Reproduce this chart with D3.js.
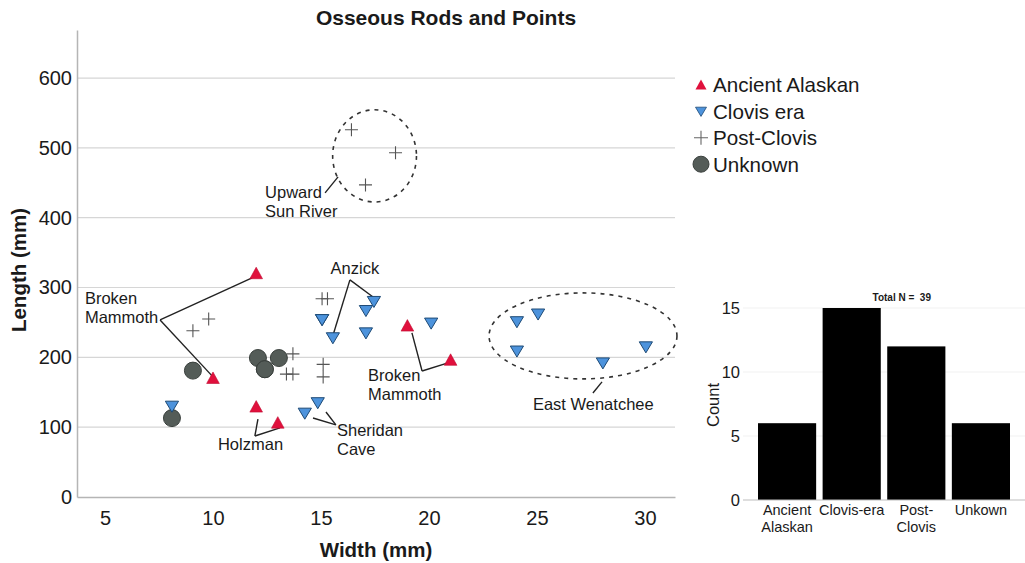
<!DOCTYPE html>
<html>
<head>
<meta charset="utf-8">
<script src="https://cdn.jsdelivr.net/npm/d3@7"></script>
<style>
  html, body { margin: 0; padding: 0; background: #fff; }
  svg { display: block; font-family: "Liberation Sans", Arial, sans-serif; }
</style>
</head>
<body>
<svg id="chart" width="1025" height="563"></svg>
<script>
// ---- Data: width / length (mm) of osseous rods and points by group ----
const ancientWidth  = [12, 10, 12, 13, 19, 21];
const ancientLength = [320, 170, 129, 106, 245, 196];

const clovisWidth  = [8.1, 14.25, 14.85, 15.05, 15.05, 15.55, 17.08, 17.45, 17.08, 20.1, 24.07, 25.05, 24.07, 28.05, 30.04];
const clovisLength = [130, 120, 135, 254, 254, 228, 267, 280, 235, 249, 251, 262, 209, 192, 215];

const postWidth  = [16.41, 18.45, 17.06, 9.07, 9.8, 15.05, 15.3, 13.7, 13.4, 13.7, 15.1, 15.1];
const postLength = [526, 493, 447, 238, 255, 284, 284, 205, 176, 176, 190, 172];

const unknownWidth  = [8.1, 9.07, 12.08, 12.4, 12.4, 13.05];
const unknownLength = [113, 181, 199, 183, 183, 199];

const xTicks = [5, 10, 15, 20, 25, 30];
const yTicks = [0, 100, 200, 300, 400, 500, 600];

const legendLabels = ["Ancient Alaskan", "Clovis era", "Post-Clovis", "Unknown"];

// counts per group for the inset bar chart
const barCategories = ["Ancient Alaskan", "Clovis-era", "Post- Clovis", "Unkown"];
const barCounts = [6, 15, 12, 6];
const barTicks = [0, 5, 10, 15];

const svg = d3.select("#chart");
const INK = "#1a1a1a";

// ---- Scatter scales ----
const x = d3.scaleLinear().domain([3.704, 31.389]).range([77, 675]);
const y = d3.scaleLinear().domain([0, 668.8]).range([497, 30]);

// gridlines
svg.append("g").selectAll("line").data(yTicks.filter(d => d > 0)).join("line")
  .attr("x1", x.range()[0]).attr("x2", x.range()[1])
  .attr("y1", d => y(d)).attr("y2", d => y(d))
  .attr("stroke", "#d6d6d6").attr("stroke-width", 1.2);

// axes
const xAxis = svg.append("g").attr("transform", `translate(0,${y(0)})`)
  .call(d3.axisBottom(x).tickValues(xTicks).tickSize(0).tickPadding(14));
const yAxis = svg.append("g").attr("transform", `translate(${x.range()[0]},0)`)
  .call(d3.axisLeft(y).tickValues(yTicks).tickSize(0).tickPadding(5));
[xAxis, yAxis].forEach(g => {
  g.select(".domain").attr("stroke", "#b5b5b5").attr("stroke-width", 1.5);
  g.selectAll("text").attr("font-size", 20).attr("fill", INK)
    .attr("font-family", "Liberation Sans, Arial, sans-serif");
});

// titles
svg.append("text").attr("x", 446).attr("y", 18).attr("dy", "0.35em")
  .attr("text-anchor", "middle").attr("font-weight", "bold").attr("font-size", 21)
  .attr("fill", INK).text("Osseous Rods and Points");
svg.append("text").attr("x", 376).attr("y", 550).attr("dy", "0.35em")
  .attr("text-anchor", "middle").attr("font-weight", "bold").attr("font-size", 20.5)
  .attr("fill", INK).text("Width (mm)");
svg.append("text").attr("transform", "translate(19,270) rotate(-90)").attr("dy", "0.35em")
  .attr("text-anchor", "middle").attr("font-weight", "bold").attr("font-size", 20.5)
  .attr("fill", INK).text("Length (mm)");

// ---- Marker shapes ----
const upTri = s => `M0,${-s * 0.55}L${s * 0.55},${s * 0.45}L${-s * 0.55},${s * 0.45}Z`;
const downTri = s => `M${-s * 0.55},${-s * 0.42}L${s * 0.55},${-s * 0.42}L0,${s * 0.5}Z`;
const plus = s => `M${-s / 2},0H${s / 2}M0,${-s / 2}V${s / 2}`;

const styles = {
  ancient: g => g.attr("d", upTri(11.5)).attr("fill", "#e0103c").attr("stroke", "#c00a30").attr("stroke-width", 0.6),
  clovis: g => g.attr("d", downTri(12)).attr("fill", "#4d93dc").attr("stroke", "#1e4a75").attr("stroke-width", 1),
  post: g => g.attr("d", plus(13)).attr("fill", "none").attr("stroke", "#555").attr("stroke-width", 1.1),
  unknown: g => g.attr("d", d3.symbol(d3.symbolCircle, Math.PI * 8.5 * 8.5)()).attr("fill", "#545c58").attr("stroke", "#3a403d").attr("stroke-width", 1)
};

function plotGroup(ws, ls, style) {
  svg.append("g").selectAll("path").data(ws.map((w, i) => [w, ls[i]])).join("path")
    .attr("transform", d => `translate(${x(d[0])},${y(d[1])})`)
    .call(style);
}

// ---- Annotations (dashed ellipses, leader lines, labels) in data units ----
const ellipses = [
  { cx: 17.48, cy: 488.5, rx: 1.94, ry: 66 },
  { cx: 27.13, cy: 230.7, rx: 4.35, ry: 61.6 }
];
svg.append("g").selectAll("ellipse").data(ellipses).join("ellipse")
  .attr("cx", d => x(d.cx)).attr("cy", d => y(d.cy))
  .attr("rx", d => x(d.cx + d.rx) - x(d.cx)).attr("ry", d => y(d.cy - d.ry) - y(d.cy))
  .attr("fill", "none").attr("stroke", "#333").attr("stroke-width", 1.6)
  .attr("stroke-dasharray", "4,5");

const leaders = [
  { from: [15.19, 435.5], to: [[15.79, 458.4]] },
  { from: [16.34, 310.9], to: [[15.56, 232], [17.41, 286.5]] },
  { from: [7.55, 253.6], to: [[11.81, 313.8], [10.0, 172]] },
  { from: [19.68, 180.5], to: [[19.21, 235], [20.88, 192]] },
  { from: [11.94, 87.4], to: [[12.08, 111.7], [13.1, 98.9]] },
  { from: [15.69, 103.2], to: [[14.63, 113.2], [15.23, 121.8]] },
  { from: [27.59, 149], to: [[28.01, 164.8]] }
];
const leaderSegs = leaders.flatMap(l => l.to.map(t => [l.from, t]));
svg.append("g").selectAll("line").data(leaderSegs).join("line")
  .attr("x1", d => x(d[0][0])).attr("y1", d => y(d[0][1]))
  .attr("x2", d => x(d[1][0])).attr("y2", d => y(d[1][1]))
  .attr("stroke", "#222").attr("stroke-width", 1.4);

const notes = [
  { x: 12.41, y: 436.9, anchor: "start", lines: ["Upward", "Sun River"] },
  { x: 16.57, y: 328, anchor: "middle", lines: ["Anzick"] },
  { x: 4.07, y: 285, anchor: "start", lines: ["Broken", "Mammoth"] },
  { x: 17.18, y: 174.8, anchor: "start", lines: ["Broken", "Mammoth"] },
  { x: 10.23, y: 75.9, anchor: "start", lines: ["Holzman"] },
  { x: 15.74, y: 96, anchor: "start", lines: ["Sheridan", "Cave"] },
  { x: 24.81, y: 133.2, anchor: "start", lines: ["East Wenatchee"] }
];
const noteG = svg.append("g").attr("font-size", 16.5).attr("fill", INK);
notes.forEach(n => {
  const t = noteG.append("text").attr("text-anchor", n.anchor)
    .attr("x", x(n.x)).attr("y", y(n.y)).attr("dy", "0.35em");
  n.lines.forEach((s, i) => {
    t.append("tspan").attr("x", x(n.x)).attr("dy", i === 0 ? "0.35em" : "1.18em").text(s);
  });
});

// points drawn after annotations
plotGroup(postWidth, postLength, styles.post);
plotGroup(unknownWidth, unknownLength, styles.unknown);
plotGroup(clovisWidth, clovisLength, styles.clovis);
plotGroup(ancientWidth, ancientLength, styles.ancient);

// ---- Legend ----
const legendStyles = [
  g => g.attr("d", upTri(10)).attr("fill", "#e0103c"),
  g => g.attr("d", downTri(10)).attr("fill", "#4d93dc").attr("stroke", "#1e4a75").attr("stroke-width", 0.8),
  g => g.attr("d", plus(14)).attr("fill", "none").attr("stroke", "#666").attr("stroke-width", 1.1),
  g => g.attr("d", d3.symbol(d3.symbolCircle, Math.PI * 8 * 8)()).attr("fill", "#545c58").attr("stroke", "#3a403d")
];
const legend = svg.append("g").attr("transform", "translate(701,85)");
legendLabels.forEach((lab, i) => {
  const row = legend.append("g").attr("transform", `translate(0,${i * 26.4})`);
  row.append("path").call(legendStyles[i]);
  row.append("text").attr("x", 12).attr("dy", "0.36em").attr("font-size", 20.6)
    .attr("fill", INK).text(lab);
});

// ---- Inset bar chart of counts ----
const bx = d3.scaleBand().domain(barCategories).range([758, 1010]).paddingInner(0.1).paddingOuter(0);
const by = d3.scaleLinear().domain([0, 15]).range([500, 308]);

svg.append("g").selectAll("line").data(barTicks.filter(d => d > 0)).join("line")
  .attr("x1", 743).attr("x2", 1025).attr("y1", d => by(d)).attr("y2", d => by(d))
  .attr("stroke", "#f1f1f1").attr("stroke-width", 1);

svg.append("g").selectAll("rect").data(barCounts).join("rect")
  .attr("x", (d, i) => bx(barCategories[i])).attr("width", bx.bandwidth())
  .attr("y", d => by(d)).attr("height", d => by(0) - by(d))
  .attr("fill", "#000");

svg.append("line").attr("x1", 743).attr("x2", 1025).attr("y1", by(0)).attr("y2", by(0))
  .attr("stroke", "#bdbdbd").attr("stroke-width", 1.2);

svg.append("g").selectAll("text").data(barTicks).join("text")
  .attr("x", 740).attr("y", d => by(d)).attr("dy", "0.35em").attr("text-anchor", "end")
  .attr("font-size", 16.5).attr("fill", INK).text(d => d);

svg.append("text").attr("transform", "translate(713,405) rotate(-90)").attr("dy", "0.35em")
  .attr("text-anchor", "middle").attr("font-size", 16.5).attr("fill", INK).text("Count");

const catG = svg.append("g").attr("font-size", 14.5).attr("fill", INK).attr("text-anchor", "middle");
barCategories.forEach(c => {
  const words = c.split(" ");
  const t = catG.append("text").attr("y", 510).attr("dy", "0.35em");
  words.forEach((w, i) => t.append("tspan").attr("x", bx(c) + bx.bandwidth() / 2)
    .attr("dy", i === 0 ? "0.35em" : "1.15em").text(w));
});

svg.append("text").attr("x", bx("Clovis-era") + bx.bandwidth() + 21).attr("y", 297).attr("dy", "0.35em")
  .attr("text-anchor", "middle").attr("font-size", 10).attr("font-weight", "bold")
  .attr("fill", INK).attr("xml:space", "preserve").text("Total N =  " + d3.sum(barCounts));
</script>
</body>
</html>
